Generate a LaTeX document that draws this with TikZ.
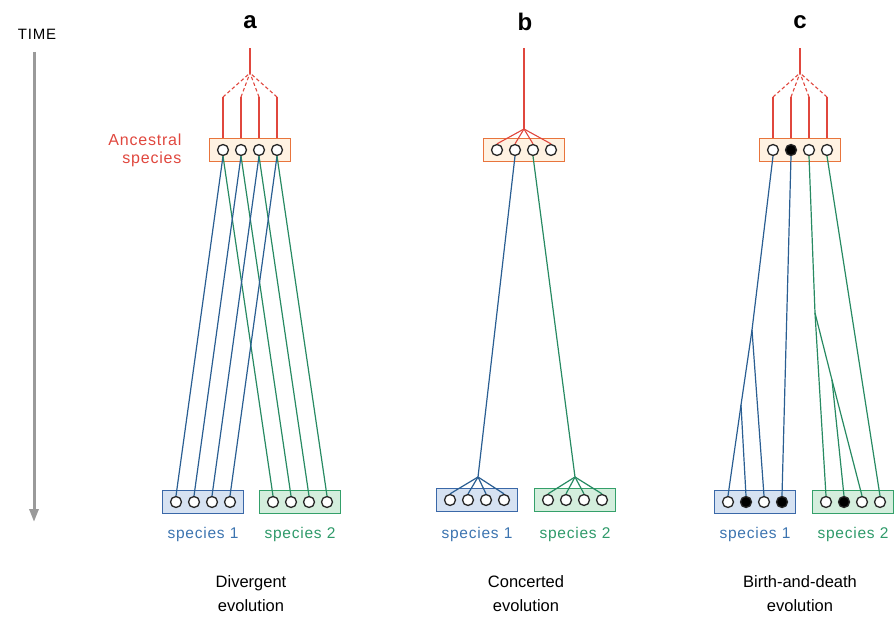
\documentclass[tikz,border=0pt]{standalone}
\usepackage{fontspec}
\setmainfont{Liberation Sans}
\newfontfamily\wide[LetterSpace=5]{Liberation Sans}
\usetikzlibrary{arrows.meta}
\definecolor{ared}{HTML}{E0473E}
\definecolor{aredbox}{HTML}{E8743C}
\definecolor{aredfill}{HTML}{FFF2E2}
\definecolor{sblue}{HTML}{3A68A8}
\definecolor{sbluefill}{HTML}{D6E2F2}
\definecolor{sgreen}{HTML}{34A06A}
\definecolor{sgreenfill}{HTML}{D4EEDD}
\definecolor{lblue}{HTML}{2A5E92}
\definecolor{lgreen}{HTML}{278A62}
\definecolor{tblue}{HTML}{3C74B0}
\definecolor{tgreen}{HTML}{2F9A6A}
\definecolor{tgray}{HTML}{9A9A9A}
\tikzset{
  gbox/.style={draw, line width=1.1pt, minimum width=81pt, minimum height=23pt, inner sep=0pt},
  anc/.style={gbox, draw=aredbox, fill=aredfill},
  spone/.style={gbox, draw=sblue, fill=sbluefill},
  sptwo/.style={gbox, draw=sgreen, fill=sgreenfill},
  gene/.style={circle, draw=black!85, fill=white, line width=1.3pt, minimum size=11pt, inner sep=0pt},
  pseudo/.style={gene, fill=black},
  redl/.style={draw=ared, line width=1.1pt},
  redd/.style={redl, dash pattern=on 3.5pt off 2.5pt},
  bluel/.style={draw=lblue, line width=1.2pt},
  greenl/.style={draw=lgreen, line width=1.2pt},
  splab/.style={font=\wide\fontsize{15.5}{17}\selectfont},
  caption/.style={align=center, font=\fontsize{16.5}{24}\selectfont},
  panel/.style={font=\fontsize{24}{26}\selectfont\bfseries}
}
\begin{document}
\begin{tikzpicture}[x=1pt, y=-1pt]
\useasboundingbox (0,0) rectangle (894,628);
% TIME
\node[font=\wide\fontsize{15}{16}\selectfont] (time) at (37,34) {TIME};
\coordinate (tA) at (34,52);
\coordinate (tB) at (34,522);
\draw[tgray, line width=3pt, -{Triangle[width=9pt,length=13pt]}] (tA) -- (tB);

% panel letters
\node[panel] (la) at (250,22) {a};
\node[panel] (lb) at (525,22) {b};
\node[panel] (lc) at (800,22) {c};

% ================= panel a =================
\node[anc] (aA) at (250,150) {};
\foreach \i/\dx in {1/-27,2/-9,3/9,4/27}{
  \node[gene] (aA\i) at ([xshift=\dx pt]aA.center) {};
  \coordinate (aT\i) at ([xshift=\dx pt, yshift=53pt]aA.center);
}
\coordinate (aP) at (250,73);
\coordinate (aR) at (250,48);
\foreach \i in {1,...,4}{
  \draw[redl] (aT\i) -- (aT\i |- aA.north);
  \draw[redd] (aT\i) -- (aP);
}
\draw[redl] (aP) -- (aR);
\node[font=\wide\fontsize{16}{18}\selectfont, text=ared, align=right, anchor=east] (anclab) at (185,150) {Ancestral\\species};

\node[spone] (aS) at (203,502) {};
\node[sptwo] (aG) at (300,502) {};
\foreach \i/\dx in {1/-27,2/-9,3/9,4/27}{
  \node[gene] (aS\i) at ([xshift=\dx pt]aS.center) {};
  \node[gene] (aG\i) at ([xshift=\dx pt]aG.center) {};
}
\foreach \i in {1,...,4}{
  \draw[bluel] (aA\i.south) -- (aS\i.north);
  \draw[greenl] (aA\i.south) -- (aG\i.north);
}
\node[splab, text=tblue] (aSl) at (203,534) {species 1};
\node[splab, text=tgreen] (aGl) at (300,534) {species 2};
\node[caption] (capa) at (251,594) {Divergent\\evolution};

% ================= panel b =================
\node[anc] (bA) at (524,150) {};
\foreach \i/\dx in {1/-27,2/-9,3/9,4/27}{
  \node[gene] (bA\i) at ([xshift=\dx pt]bA.center) {};
}
\coordinate (bR) at (524,48);
\coordinate (bP) at (524,129);
\draw[redl] (bR) -- (bP);
\foreach \i in {1,...,4}{
  \draw[redl] (bP) -- (bA\i.north);
}
\node[spone] (bS) at (477,500) {};
\node[sptwo] (bG) at (575,500) {};
\foreach \i/\dx in {1/-27,2/-9,3/9,4/27}{
  \node[gene] (bS\i) at ([xshift=\dx pt]bS.center) {};
  \node[gene] (bG\i) at ([xshift=\dx pt]bG.center) {};
}
\coordinate (bQ1) at (478,477);
\coordinate (bQ2) at (575,477);
\draw[bluel] (bA2.south) -- (bQ1);
\draw[greenl] (bA3.south) -- (bQ2);
\foreach \i in {1,...,4}{
  \draw[bluel] (bQ1) -- (bS\i.north);
  \draw[greenl] (bQ2) -- (bG\i.north);
}
\node[splab, text=tblue] (bSl) at (477,534) {species 1};
\node[splab, text=tgreen] (bGl) at (575,534) {species 2};
\node[caption] (capb) at (526,594) {Concerted\\evolution};

% ================= panel c =================
\node[anc] (cA) at (800,150) {};
\node[gene] (cA1) at ([xshift=-27pt]cA.center) {};
\node[pseudo] (cA2) at ([xshift=-9pt]cA.center) {};
\node[gene] (cA3) at ([xshift=9pt]cA.center) {};
\node[gene] (cA4) at ([xshift=27pt]cA.center) {};
\foreach \i/\dx in {1/-27,2/-9,3/9,4/27}{
  \coordinate (cT\i) at ([xshift=\dx pt, yshift=53pt]cA.center);
}
\coordinate (cP) at (800,73);
\coordinate (cR) at (800,48);
\foreach \i in {1,...,4}{
  \draw[redl] (cT\i) -- (cT\i |- cA.north);
  \draw[redd] (cT\i) -- (cP);
}
\draw[redl] (cP) -- (cR);

\node[spone] (cS) at (755,502) {};
\node[sptwo] (cG) at (853,502) {};
\node[gene] (cS1) at ([xshift=-27pt]cS.center) {};
\node[pseudo] (cS2) at ([xshift=-9pt]cS.center) {};
\node[gene] (cS3) at ([xshift=9pt]cS.center) {};
\node[pseudo] (cS4) at ([xshift=27pt]cS.center) {};
\node[gene] (cG1) at ([xshift=-27pt]cG.center) {};
\node[pseudo] (cG2) at ([xshift=-9pt]cG.center) {};
\node[gene] (cG3) at ([xshift=9pt]cG.center) {};
\node[gene] (cG4) at ([xshift=27pt]cG.center) {};

\coordinate (cB1) at (752,330);
\coordinate (cB2) at (741,405);
\coordinate (cK1) at (815,313);
\coordinate (cK2) at (832,380);
\draw[bluel] (cA1.south) -- (cB1);
\draw[bluel] (cB1) -- (cS3.north);
\draw[bluel] (cB1) -- (cB2);
\draw[bluel] (cB2) -- (cS1.north);
\draw[bluel] (cB2) -- (cS2.north);
\draw[bluel] (cA2.south) -- (cS4.north);
\draw[greenl] (cA3.south) -- (cK1);
\draw[greenl] (cK1) -- (cG1.north);
\draw[greenl] (cK1) -- (cK2);
\draw[greenl] (cK2) -- (cG2.north);
\draw[greenl] (cK2) -- (cG3.north);
\draw[greenl] (cA4.south) -- (cG4.north);

\node[splab, text=tblue] (cSl) at (755,534) {species 1};
\node[splab, text=tgreen] (cGl) at (853,534) {species 2};
\node[caption] (capc) at (800,594) {Birth-and-death\\evolution};
\end{tikzpicture}
\end{document}
